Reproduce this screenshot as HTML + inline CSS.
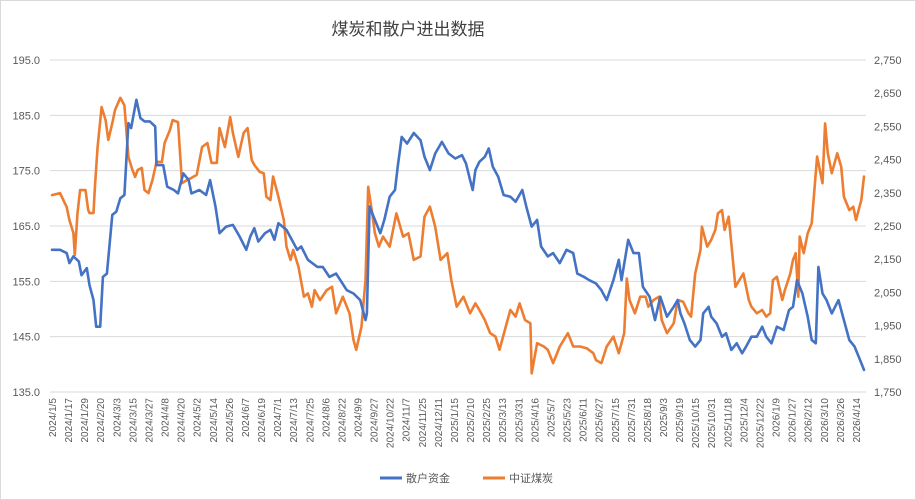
<!DOCTYPE html>
<html><head><meta charset="utf-8"><style>
html,body{margin:0;padding:0;background:#fff;}
svg{display:block;font-family:"Liberation Sans","Noto Sans CJK SC",sans-serif;}
</style></head><body>
<svg id="chart" width="916" height="500" viewBox="0 0 916 500">
<rect x="0.5" y="0.5" width="915" height="499" fill="#fff" stroke="#d9d9d9"/>
<text x="408" y="35" text-anchor="middle" font-size="17" fill="#404040">煤炭和散户进出数据</text>
<g id="grid"></g><g id="axes"></g><g id="series"></g>
<g>
<g><line x1="380" y1="478" x2="402" y2="478" stroke="#4472c4" stroke-width="3"/><text x="406" y="482" font-size="11" fill="#595959">散户资金</text></g>
<g><line x1="483" y1="478" x2="505" y2="478" stroke="#ed7d31" stroke-width="3"/><text x="509" y="482" font-size="11" fill="#595959">中证煤炭</text></g>
</g>
</svg>
<script>
const leftTicks=[135,145,155,165,175,185,195];
const rightTicks=[1750,1850,1950,2050,2150,2250,2350,2450,2550,2650,2750];
const dateLabels=["2024/1/5","2024/1/17","2024/1/29","2024/2/20","2024/3/3","2024/3/15","2024/3/27","2024/4/8","2024/4/20","2024/5/2","2024/5/14","2024/5/26","2024/6/7","2024/6/19","2024/7/1","2024/7/13","2024/7/25","2024/8/6","2024/8/22","2024/9/9","2024/9/27","2024/10/22","2024/11/7","2024/11/25","2024/12/11","2025/1/15","2025/2/10","2025/2/25","2025/3/13","2025/3/31","2025/4/16","2025/5/7","2025/5/23","2025/6/11","2025/6/27","2025/7/15","2025/7/31","2025/8/18","2025/9/3","2025/9/19","2025/10/15","2025/10/31","2025/11/18","2025/12/4","2025/12/22","2026/1/9","2026/1/27","2026/2/12","2026/3/10","2026/3/26","2026/4/14"];
const totalDays=607;
const fundsIdx=[0,6,11,13,16,20,22,26,28,31,33,36,38,41,45,48,51,54,57,59,63,66,69,73,77,78,83,86,91,94,98,102,104,110,115,118,122,125,130,135,140,145,148,151,154,155,159,163,166,169,175,179,183,186,191,198,202,207,212,220,225,230,234,235,237,241,245,248,252,256,258,261,265,270,275,278,282,286,291,296,301,306,309,312,314,316,319,323,326,329,333,337,342,346,351,354,358,362,365,370,374,379,384,389,392,397,401,406,410,414,419,423,425,430,434,438,441,446,450,454,459,464,467,469,472,476,480,484,486,490,492,496,500,503,507,511,515,518,522,526,530,533,537,541,546,550,553,556,560,564,567,570,572,575,578,582,587,591,595,599,603,606];
const funds=[160.7,160.7,160.1,158.3,159.5,158.6,156.1,157.4,154.3,151.6,146.8,146.8,155.8,156.4,167,167.6,170,170.6,183.6,182.7,187.8,184.5,183.9,183.9,183,176,176,172.1,171.5,170.9,174.5,173.3,170.9,171.5,170.6,173.3,168.5,163.7,164.9,165.2,163.1,160.7,163.1,164.6,162.2,162.5,163.7,164.3,162.5,165.5,164.3,162.5,160.7,161.3,158.9,157.6,157.6,155.8,156.4,153.4,152.8,151.6,148,149.2,168.5,166.1,163.7,166.1,170.3,171.5,175.7,181.1,179.9,181.8,180.5,177.5,175.1,178.1,180.2,178.1,177.2,177.8,176.3,173.3,171.5,175.1,176.6,177.5,179,175.7,173.9,170.6,170.3,169.4,171.5,168.5,164.9,166.1,161.3,159.5,160.1,158.3,160.7,160.1,156.4,155.8,155.2,154.6,153.4,151.6,155.2,158.9,155.2,162.5,160.1,160.1,154,152.2,148,152.2,148.6,150.4,151.6,149.2,147.4,144.4,143.2,144.4,149.2,150.4,148.6,147.4,145,145.6,142.6,143.8,142,143.2,145,145,146.8,145,143.8,146.8,146.2,149.8,150.4,155.2,152.8,148.6,144.4,143.8,157.6,152.8,151.6,149.2,151.6,148,144.4,143.2,140.8,139];
const coalIdx=[0,6,11,13,16,17,19,21,25,27,28,31,32,34,37,40,42,45,47,51,54,57,60,62,64,67,69,72,75,78,82,84,88,90,94,97,101,104,108,112,116,119,123,125,129,133,135,139,143,146,149,151,155,158,160,163,165,169,173,175,178,180,184,188,191,194,196,200,205,209,212,217,222,225,227,231,234,236,239,241,244,247,252,257,262,266,270,275,278,282,286,290,295,298,302,307,312,316,319,323,327,331,334,338,342,346,349,353,357,358,362,367,370,374,379,385,389,394,399,404,406,410,414,419,423,427,429,431,435,439,443,445,449,453,455,459,464,467,471,475,477,480,484,485,489,492,495,497,500,502,505,507,510,513,516,520,522,526,530,533,536,538,541,545,547,551,553,555,557,558,561,564,567,571,575,577,579,582,586,589,591,595,598,600,604,606];
const coal=[2343,2349,2307,2268,2229,2163,2289,2358,2358,2298,2289,2289,2367,2488,2608,2569,2509,2560,2599,2636,2614,2458,2419,2398,2419,2425,2358,2349,2389,2443,2443,2500,2539,2569,2563,2379,2389,2395,2404,2488,2500,2440,2440,2545,2488,2578,2530,2458,2530,2545,2449,2434,2413,2409,2338,2328,2399,2338,2268,2188,2148,2178,2127,2037,2047,2007,2057,2027,2057,2067,1987,2037,1987,1907,1877,1947,2087,2368,2288,2228,2188,2218,2188,2288,2218,2228,2148,2158,2278,2308,2248,2148,2168,2087,2007,2037,1987,2017,1997,1967,1927,1917,1877,1937,1997,1977,2017,1967,1957,1806,1897,1887,1877,1837,1887,1927,1887,1887,1882,1867,1846,1837,1887,1917,1867,1927,2092,2027,1987,2037,2037,2007,2027,2037,1967,1927,1957,2027,2022,1987,1977,2107,2178,2248,2188,2208,2238,2288,2298,2238,2278,2198,2067,2087,2107,2027,2007,1987,1997,1977,1987,2087,2097,2027,2057,2107,2148,2168,2037,2218,2168,2228,2258,2459,2379,2559,2469,2409,2469,2429,2338,2298,2308,2268,2328,2399];

const NS="http://www.w3.org/2000/svg";
const X0=52,X1=864,Y0=60,Y1=392;
const xS=i=>X0+i*(X1-X0)/(totalDays-1);
const yL=v=>Y0+(195-v)*(Y1-Y0)/60;
const yR=v=>Y0+(2750-v)*(Y1-Y0)/1000;
function mk(tag,attrs,parent){const e=document.createElementNS(NS,tag);for(const k in attrs)e.setAttribute(k,attrs[k]);parent.appendChild(e);return e;}
const grid=document.getElementById('grid'),axes=document.getElementById('axes'),series=document.getElementById('series');
leftTicks.forEach(v=>{
  const l=mk('line',{x1:50,x2:866,y1:yL(v),y2:yL(v),stroke:'#d9d9d9','stroke-width':1},grid);
  
  
  const t=mk('text',{x:40,y:yL(v)+4,'text-anchor':'end','font-size':11,fill:'#595959'},axes);
  t.textContent=v.toFixed(1);
  
  
});
rightTicks.forEach(v=>{
  const t=mk('text',{x:874,y:yR(v)+4,'text-anchor':'start','font-size':11,fill:'#595959'},axes);
  t.textContent=v.toLocaleString('en-US');
  
  
});
dateLabels.forEach((d,k)=>{
  const x=xS(k*12)+4,y=398;
  const t=mk('text',{x:x,y:y,'text-anchor':'end','font-size':10,fill:'#595959',transform:`rotate(-90 ${x} ${y})`},axes);
  t.textContent=d;
  
  
});
function line(idx,vals,ys,color,name){
  const d=idx.map((i,k)=>(k?'L':'M')+xS(i).toFixed(1)+','+ys(vals[k]).toFixed(1)).join('');
  const p=mk('path',{d:d,fill:'none',stroke:color,'stroke-width':2.6,'stroke-linejoin':'round','stroke-linecap':'round'},series);
  
  
}
line(coalIdx,coal,yR,'#ed7d31','csi-coal-line');
line(fundsIdx,funds,yL,'#4472c4','retail-funds-line');
</script>
</body></html>
